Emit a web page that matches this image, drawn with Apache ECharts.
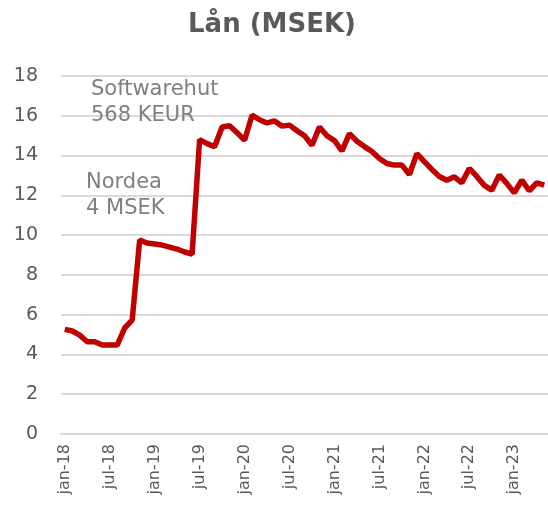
<!DOCTYPE html>
<html>
<head>
<meta charset="utf-8">
<script src="https://cdn.jsdelivr.net/npm/echarts@6/dist/echarts.min.js"></script>
<style>
  html, body { margin: 0; padding: 0; background: #fff; }
  #chart { width: 548px; height: 507px; }
</style>
</head>
<body>
<div id="chart"></div>
<script>
// months jan-18 .. may-23
const monthNames = ['jan', 'feb', 'mar', 'apr', 'maj', 'jun', 'jul', 'aug', 'sep', 'okt', 'nov', 'dec']
const months = []
for (let y = 18; y <= 23; y++) {
  for (let m = 0; m < 12; m++) {
    if (y === 23 && m > 4) break
    months.push(monthNames[m] + '-' + y)
  }
}

// loan amount, MSEK
const loans = [
  5.26, 5.18, 4.97, 4.64, 4.64, 4.47, 4.47, 4.47, 5.33, 5.73,
  9.75, 9.6, 9.55, 9.5, 9.4, 9.3, 9.15, 9.05, 14.8, 14.6,
  14.44, 15.44, 15.5, 15.15, 14.77, 16.03, 15.8, 15.64, 15.74, 15.48,
  15.53, 15.25, 15.0, 14.52, 15.44, 15.0, 14.75, 14.24, 15.1, 14.72,
  14.45, 14.2, 13.85, 13.6, 13.52, 13.52, 13.05, 14.1, 13.7, 13.3,
  12.95, 12.76, 12.93, 12.63, 13.35, 12.95, 12.5, 12.26, 13.02, 12.6,
  12.13, 12.76, 12.23, 12.63, 12.51
]

const yTicks = [0, 2, 4, 6, 8, 10, 12, 14, 16, 18]

const notes = [
  { text: 'Softwarehut\n568 KEUR', left: 91, top: 77 },
  { text: 'Nordea\n4 MSEK', left: 86, top: 170 }
]

const chart = echarts.init(document.getElementById('chart'))
const font = '"DejaVu Sans", sans-serif'

chart.setOption({
  animation: false,
  title: {
    text: 'Lån (MSEK)',
    left: 267,
    textAlign: 'center',
    top: 7,
    textStyle: { fontFamily: font, fontSize: 26, fontWeight: 'bold', color: '#595959' }
  },
  grid: { left: 61, right: -3, top: 76, bottom: 73 },
  xAxis: {
    type: 'category',
    data: months,
    boundaryGap: true,
    axisLine: { lineStyle: { color: '#d9d9d9', width: 2 } },
    axisTick: { interval: 5, length: 5, lineStyle: { color: '#d9d9d9', width: 2 } },
    axisLabel: {
      interval: 5,
      rotate: 90,
      margin: 10,
      fontFamily: font,
      fontSize: 16,
      color: '#595959'
    }
  },
  yAxis: {
    type: 'value',
    min: yTicks[0],
    max: yTicks[yTicks.length - 1],
    interval: 2,
    axisLine: { show: false },
    axisTick: { show: false },
    splitLine: { lineStyle: { color: '#d9d9d9', width: 2 } },
    axisLabel: { margin: 23, fontFamily: font, fontSize: 19, color: '#595959' }
  },
  graphic: notes.map(n => ({
    type: 'text',
    left: n.left,
    top: n.top,
    z: 10,
    style: { text: n.text, fontFamily: font, fontSize: 21, lineHeight: 26, fill: '#7f7f7f' }
  })),
  series: [{
    type: 'line',
    data: loans,
    symbol: 'none',
    lineStyle: { color: '#c00000', width: 5.5 },
    z: 5
  }]
})
</script>
</body>
</html>
